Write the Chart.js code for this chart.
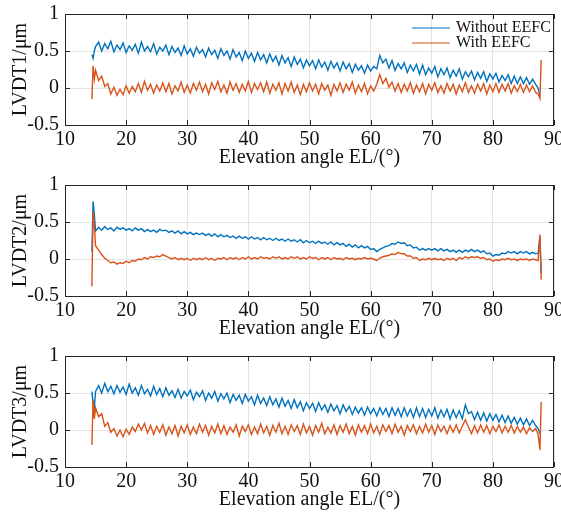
<!DOCTYPE html>
<html>
<head>
<meta charset="utf-8">
<script src="https://cdn.jsdelivr.net/npm/chart.js"></script>
<style>
  body { margin: 0; background: #fff; }
  .panel { position: absolute; left: 0; width: 561px; height: 171px; }
</style>
</head>
<body>
<div class="panel" style="top:0px"><canvas id="c1"></canvas></div>
<div class="panel" style="top:171px"><canvas id="c2"></canvas></div>
<div class="panel" style="top:342px"><canvas id="c3"></canvas></div>
<script>
// elevation angle EL (deg), shared by all six traces
const elevation = [
  14.4, 14.6, 14.8, 15.0, 15.5, 16.0, 16.5, 17.0, 17.5, 18.0,
  18.5, 19.0, 19.5, 20.0, 20.5, 21.0, 21.5, 22.0, 22.5, 23.0,
  23.5, 24.0, 24.5, 25.0, 25.5, 26.0, 26.5, 27.0, 27.5, 28.0,
  28.5, 29.0, 29.5, 30.0, 30.5, 31.0, 31.5, 32.0, 32.5, 33.0,
  33.5, 34.0, 34.5, 35.0, 35.5, 36.0, 36.5, 37.0, 37.5, 38.0,
  38.5, 39.0, 39.5, 40.0, 40.5, 41.0, 41.5, 42.0, 42.5, 43.0,
  43.5, 44.0, 44.5, 45.0, 45.5, 46.0, 46.5, 47.0, 47.5, 48.0,
  48.5, 49.0, 49.5, 50.0, 50.5, 51.0, 51.5, 52.0, 52.5, 53.0,
  53.5, 54.0, 54.5, 55.0, 55.5, 56.0, 56.5, 57.0, 57.5, 58.0,
  58.5, 59.0, 59.5, 60.0, 60.5, 61.0, 61.5, 62.0, 62.5, 63.0,
  63.5, 64.0, 64.5, 65.0, 65.5, 66.0, 66.5, 67.0, 67.5, 68.0,
  68.5, 69.0, 69.5, 70.0, 70.5, 71.0, 71.5, 72.0, 72.5, 73.0,
  73.5, 74.0, 74.5, 75.0, 75.5, 76.0, 76.5, 77.0, 77.5, 78.0,
  78.5, 79.0, 79.5, 80.0, 80.5, 81.0, 81.5, 82.0, 82.5, 83.0,
  83.5, 84.0, 84.5, 85.0, 85.5, 86.0, 86.5, 87.0, 87.4, 87.7,
  87.9
];

// LVDT1
const lvdt1Without = [
  0.45, 0.40, 0.50, 0.56, 0.62, 0.50, 0.60, 0.53, 0.63, 0.49,
  0.58, 0.52, 0.61, 0.48, 0.57, 0.51, 0.59, 0.47, 0.62, 0.50,
  0.56, 0.49, 0.60, 0.46, 0.55, 0.50, 0.58, 0.45, 0.56, 0.48,
  0.54, 0.44, 0.57, 0.46, 0.53, 0.43, 0.55, 0.47, 0.52, 0.42,
  0.54, 0.45, 0.51, 0.40, 0.53, 0.44, 0.50, 0.39, 0.52, 0.42,
  0.48, 0.37, 0.50, 0.40, 0.47, 0.36, 0.48, 0.38, 0.45, 0.34,
  0.46, 0.36, 0.43, 0.31, 0.44, 0.34, 0.41, 0.29, 0.42, 0.32,
  0.39, 0.27, 0.38, 0.30, 0.37, 0.26, 0.38, 0.28, 0.35, 0.24,
  0.36, 0.27, 0.34, 0.23, 0.35, 0.26, 0.33, 0.21, 0.32, 0.24,
  0.30, 0.20, 0.31, 0.23, 0.29, 0.26, 0.44, 0.34, 0.39, 0.27,
  0.37, 0.24, 0.33, 0.26, 0.34, 0.21, 0.31, 0.23, 0.32, 0.19,
  0.31, 0.18, 0.27, 0.20, 0.29, 0.15, 0.26, 0.18, 0.27, 0.14,
  0.24, 0.16, 0.26, 0.12, 0.22, 0.15, 0.23, 0.11, 0.21, 0.13,
  0.22, 0.09, 0.19, 0.12, 0.20, 0.08, 0.17, 0.10, 0.18, 0.06,
  0.16, 0.06, 0.15, 0.06, 0.14, 0.05, 0.12, 0.05, 0.00, -0.10,
  null
];
const lvdt1With = [
  -0.15, 0.30, 0.12, 0.24, 0.10, 0.16, 0.02, 0.06, -0.08, 0.01,
  -0.10, -0.02, -0.09, 0.03, -0.07, 0.02, -0.05, 0.06, -0.06, 0.09,
  -0.03, 0.05, -0.07, 0.04, -0.04, 0.07, -0.05, 0.06, -0.08, 0.03,
  -0.04, 0.08, -0.06, 0.04, -0.07, 0.06, -0.03, 0.08, -0.05, 0.05,
  -0.08, 0.07, -0.02, 0.09, -0.05, 0.04, -0.07, 0.08, -0.03, 0.06,
  -0.06, 0.05, -0.04, 0.09, -0.06, 0.06, -0.02, 0.07, -0.05, 0.08,
  -0.07, 0.05, -0.03, 0.07, -0.08, 0.06, -0.04, 0.08, -0.06, 0.04,
  -0.09, 0.05, -0.05, 0.07, -0.04, 0.05, -0.08, 0.06, -0.03, 0.04,
  -0.10, 0.05, -0.04, 0.07, -0.06, 0.05, -0.03, 0.08, -0.07, 0.04,
  -0.05, 0.06, -0.08, 0.03, -0.04, 0.05, 0.18, 0.06, 0.13, 0.01,
  0.08, -0.04, 0.06, -0.06, 0.05, -0.04, 0.07, -0.07, 0.04, -0.05,
  0.06, -0.08, 0.05, -0.03, 0.07, -0.06, 0.03, -0.07, 0.06, -0.04,
  0.05, -0.08, 0.04, -0.05, 0.07, -0.06, 0.03, -0.07, 0.05, -0.04,
  0.06, -0.08, 0.04, -0.05, 0.06, -0.06, 0.05, -0.04, 0.06, -0.07,
  0.03, -0.05, 0.05, -0.06, 0.04, -0.05, 0.03, -0.06, -0.08, -0.14,
  0.38
];

// LVDT2
const lvdt2Without = [
  0.10, 0.78, 0.60, 0.38, 0.43, 0.39, 0.44, 0.40, 0.42, 0.38,
  0.43, 0.40, 0.42, 0.39, 0.41, 0.38, 0.42, 0.39, 0.41, 0.37,
  0.40, 0.37, 0.39, 0.36, 0.40, 0.38, 0.39, 0.36, 0.38, 0.35,
  0.38, 0.34, 0.37, 0.34, 0.36, 0.33, 0.35, 0.33, 0.35, 0.32,
  0.34, 0.31, 0.34, 0.30, 0.33, 0.30, 0.32, 0.29, 0.31, 0.28,
  0.31, 0.28, 0.30, 0.27, 0.30, 0.27, 0.29, 0.26, 0.29, 0.26,
  0.28, 0.25, 0.28, 0.25, 0.27, 0.24, 0.27, 0.24, 0.26, 0.23,
  0.26, 0.22, 0.25, 0.22, 0.24, 0.21, 0.24, 0.21, 0.23, 0.20,
  0.23, 0.19, 0.22, 0.19, 0.21, 0.17, 0.20, 0.16, 0.19, 0.15,
  0.18, 0.15, 0.17, 0.13, 0.14, 0.10, 0.13, 0.15, 0.17, 0.18,
  0.21, 0.20, 0.23, 0.21, 0.22, 0.18, 0.19, 0.15, 0.16, 0.12,
  0.14, 0.12, 0.14, 0.12, 0.14, 0.11, 0.14, 0.11, 0.13, 0.10,
  0.12, 0.09, 0.12, 0.09, 0.12, 0.10, 0.13, 0.10, 0.12, 0.09,
  0.11, 0.07, 0.08, 0.04, 0.06, 0.05, 0.08, 0.07, 0.10, 0.08,
  0.10, 0.07, 0.10, 0.08, 0.10, 0.07, 0.09, 0.07, 0.08, 0.30,
  -0.20
];
const lvdt2With = [
  -0.37, 0.65, 0.45, 0.18, 0.12, 0.06, 0.01, -0.02, -0.05, -0.04,
  -0.07, -0.05, -0.06, -0.03, -0.05, -0.02, -0.03, 0.00, -0.01, 0.02,
  0.00, 0.03, 0.02, 0.04, 0.03, 0.06, 0.04, 0.02, 0.00, 0.02,
  -0.01, 0.01, -0.01, 0.01, -0.02, 0.01, -0.01, 0.01, -0.01, 0.02,
  -0.01, 0.01, -0.02, 0.01, 0.00, 0.02, -0.01, 0.02, 0.00, 0.02,
  -0.01, 0.02, 0.00, 0.03, 0.00, 0.02, 0.00, 0.03, 0.01, 0.02,
  0.00, 0.03, 0.01, 0.03, 0.00, 0.02, 0.00, 0.03, 0.01, 0.03,
  0.00, 0.02, 0.00, 0.03, 0.01, 0.02, -0.01, 0.02, 0.00, 0.02,
  -0.01, 0.02, 0.00, 0.01, -0.01, 0.02, 0.00, 0.01, -0.01, 0.01,
  0.00, 0.02, 0.00, 0.01, 0.00, -0.02, 0.01, 0.03, 0.04, 0.05,
  0.07, 0.06, 0.09, 0.07, 0.07, 0.04, 0.04, 0.01, 0.02, -0.02,
  0.00, -0.01, 0.01, -0.01, 0.01, -0.01, 0.00, -0.02, 0.01, -0.01,
  0.01, -0.02, 0.02, 0.00, 0.03, 0.01, 0.03, 0.02, 0.03, 0.01,
  0.02, -0.01, 0.00, -0.03, -0.01, -0.02, 0.00, -0.01, 0.01, -0.01,
  0.00, -0.02, 0.00, -0.01, 0.00, -0.02, 0.00, -0.01, -0.02, 0.33,
  -0.28
];

// LVDT3
const lvdt3Without = [
  0.52, 0.35, 0.30, 0.52, 0.60, 0.50, 0.63, 0.52, 0.59, 0.49,
  0.60, 0.51, 0.58, 0.48, 0.62, 0.50, 0.57, 0.47, 0.60, 0.49,
  0.55, 0.46, 0.59, 0.48, 0.56, 0.45, 0.57, 0.47, 0.53, 0.44,
  0.55, 0.43, 0.52, 0.46, 0.54, 0.41, 0.51, 0.45, 0.53, 0.40,
  0.50, 0.43, 0.52, 0.39, 0.49, 0.42, 0.50, 0.37, 0.48, 0.40,
  0.47, 0.36, 0.48, 0.39, 0.45, 0.34, 0.47, 0.36, 0.43, 0.33,
  0.45, 0.34, 0.42, 0.31, 0.43, 0.32, 0.40, 0.29, 0.41, 0.30,
  0.38, 0.26, 0.37, 0.29, 0.36, 0.25, 0.37, 0.27, 0.34, 0.24,
  0.35, 0.26, 0.33, 0.22, 0.34, 0.25, 0.32, 0.21, 0.31, 0.23,
  0.30, 0.20, 0.31, 0.22, 0.29, 0.19, 0.30, 0.21, 0.29, 0.18,
  0.30, 0.20, 0.29, 0.18, 0.30, 0.19, 0.28, 0.17, 0.30, 0.18,
  0.29, 0.17, 0.28, 0.19, 0.30, 0.16, 0.27, 0.18, 0.28, 0.15,
  0.27, 0.17, 0.26, 0.15, 0.34, 0.22, 0.25, 0.14, 0.24, 0.13,
  0.23, 0.12, 0.22, 0.13, 0.21, 0.11, 0.20, 0.10, 0.19, 0.09,
  0.17, 0.08, 0.16, 0.07, 0.15, 0.06, 0.13, 0.06, 0.02, -0.05,
  null
];
const lvdt3With = [
  -0.20, 0.41, 0.15, 0.30, 0.18, 0.22, 0.05, 0.10, -0.03, 0.02,
  -0.08, 0.00, -0.09, 0.01, -0.06, 0.04, -0.02, 0.08, 0.00, 0.09,
  -0.04, 0.06, -0.06, 0.05, -0.03, 0.07, -0.07, 0.04, -0.05, 0.06,
  -0.08, 0.05, -0.04, 0.07, -0.06, 0.04, -0.05, 0.08, -0.03, 0.06,
  -0.07, 0.05, -0.04, 0.08, -0.05, 0.06, -0.06, 0.04, -0.03, 0.07,
  -0.08, 0.05, -0.02, 0.07, -0.06, 0.04, -0.05, 0.08, -0.04, 0.05,
  -0.07, 0.06, -0.03, 0.09, -0.05, 0.05, -0.06, 0.07, -0.02, 0.06,
  -0.06, 0.08, -0.04, 0.05, -0.07, 0.06, -0.03, 0.09, -0.05, 0.04,
  -0.04, 0.07, -0.06, 0.06, -0.03, 0.08, -0.05, 0.05, -0.07, 0.07,
  -0.03, 0.06, -0.05, 0.08, -0.04, 0.05, -0.06, 0.07, -0.02, 0.06,
  -0.05, 0.08, -0.03, 0.05, -0.07, 0.06, -0.02, 0.07, -0.05, 0.05,
  -0.04, 0.08, -0.03, 0.06, -0.06, 0.07, -0.02, 0.05, -0.05, 0.06,
  -0.03, 0.07, -0.04, 0.05, 0.14, 0.04, -0.05, 0.06, -0.04, 0.07,
  -0.03, 0.06, -0.05, 0.05, -0.02, 0.07, -0.04, 0.05, -0.03, 0.06,
  -0.04, 0.05, -0.03, 0.04, -0.05, 0.03, -0.02, 0.02, -0.06, -0.27,
  0.38
];

const xTicks = [10, 20, 30, 40, 50, 60, 70, 80, 90];
const yTicks = [-0.5, 0, 0.5, 1];
const seriesNames = ['Without EEFC', 'With EEFC'];
const blue = '#0072BD';
const orange = '#D95319';
const serif = '"Liberation Serif", "Times New Roman", serif';

// matlab style box with inward ticks
const boxPlugin = {
  id: 'box',
  afterDraw(chart) {
    const {ctx, chartArea: a, scales} = chart;
    ctx.save();
    ctx.strokeStyle = '#262626';
    ctx.lineWidth = 1;
    ctx.strokeRect(a.left + 0.5, a.top + 0.5, a.right - a.left - 1, a.bottom - a.top);
    ctx.beginPath();
    xTicks.forEach(v => {
      const px = Math.round(scales.x.getPixelForValue(v)) + 0.5;
      ctx.moveTo(px, a.bottom); ctx.lineTo(px, a.bottom - 5);
      ctx.moveTo(px, a.top); ctx.lineTo(px, a.top + 5);
    });
    yTicks.forEach(v => {
      const py = Math.round(scales.y.getPixelForValue(v)) + 0.5;
      ctx.moveTo(a.left, py); ctx.lineTo(a.left + 5, py);
      ctx.moveTo(a.right, py); ctx.lineTo(a.right - 5, py);
    });
    ctx.stroke();
    ctx.restore();
  }
};

const legendPlugin = {
  id: 'insideLegend',
  afterDraw(chart) {
    const {ctx, chartArea: a} = chart;
    ctx.save();
    ctx.font = '16px ' + serif;
    ctx.textBaseline = 'middle';
    chart.data.datasets.forEach((ds, i) => {
      const yy = a.top + 14 + i * 15;
      ctx.strokeStyle = ds.borderColor;
      ctx.lineWidth = 1.2;
      ctx.beginPath();
      ctx.moveTo(a.right - 142, yy);
      ctx.lineTo(a.right - 104, yy);
      ctx.stroke();
      ctx.fillStyle = '#111';
      ctx.fillText(ds.label, a.right - 98, yy);
    });
    ctx.restore();
  }
};

function toPoints(vals) {
  return elevation.map((e, i) => ({x: e, y: vals[i]}));
}

function makeChart(id, yTitle, without, withC, showLegend) {
  const plugins = [boxPlugin];
  if (showLegend) plugins.push(legendPlugin);
  return new Chart(document.getElementById(id), {
    type: 'line',
    data: {
      datasets: [
        {label: seriesNames[0], data: toPoints(without), borderColor: blue, borderWidth: 1.4, pointRadius: 0, order: 2},
        {label: seriesNames[1], data: toPoints(withC), borderColor: orange, borderWidth: 1.4, pointRadius: 0, order: 1}
      ]
    },
    plugins: plugins,
    options: {
      responsive: true,
      maintainAspectRatio: false,
      animation: false,
      layout: {padding: {top: 14, right: 7, left: 0, bottom: 0}},
      plugins: {legend: {display: false}, tooltip: {enabled: false}},
      scales: {
        x: {
          type: 'linear',
          min: 10, max: 90,
          afterBuildTicks: s => { s.ticks = xTicks.map(v => ({value: v})); },
          afterFit: s => { s.height = 46; s.paddingLeft = 0; s.paddingRight = 0; },
          grid: {color: '#e3e3e3', drawTicks: false},
          border: {display: false},
          ticks: {padding: 3, color: '#111', font: {family: serif, size: 20}, maxRotation: 0,
                  callback: v => String(v)},
          title: {display: true, text: 'Elevation angle EL/(°)', color: '#111',
                  font: {family: serif, size: 20}, padding: {top: 0, bottom: 1}}
        },
        y: {
          min: -0.5, max: 1,
          afterBuildTicks: s => { s.ticks = yTicks.map(v => ({value: v})); },
          afterFit: s => { s.width = 65; s.paddingTop = 0; s.paddingBottom = 0; },
          grid: {color: '#e3e3e3', drawTicks: false},
          border: {display: false},
          ticks: {padding: 6, color: '#111', font: {family: serif, size: 20},
                  callback: v => String(v)},
          title: {display: true, text: yTitle, color: '#111',
                  font: {family: serif, size: 20}, padding: {top: 9, bottom: 0}}
        }
      }
    }
  });
}

makeChart('c1', 'LVDT1/μm', lvdt1Without, lvdt1With, true);
makeChart('c2', 'LVDT2/μm', lvdt2Without, lvdt2With, false);
makeChart('c3', 'LVDT3/μm', lvdt3Without, lvdt3With, false);
</script>
</body>
</html>
